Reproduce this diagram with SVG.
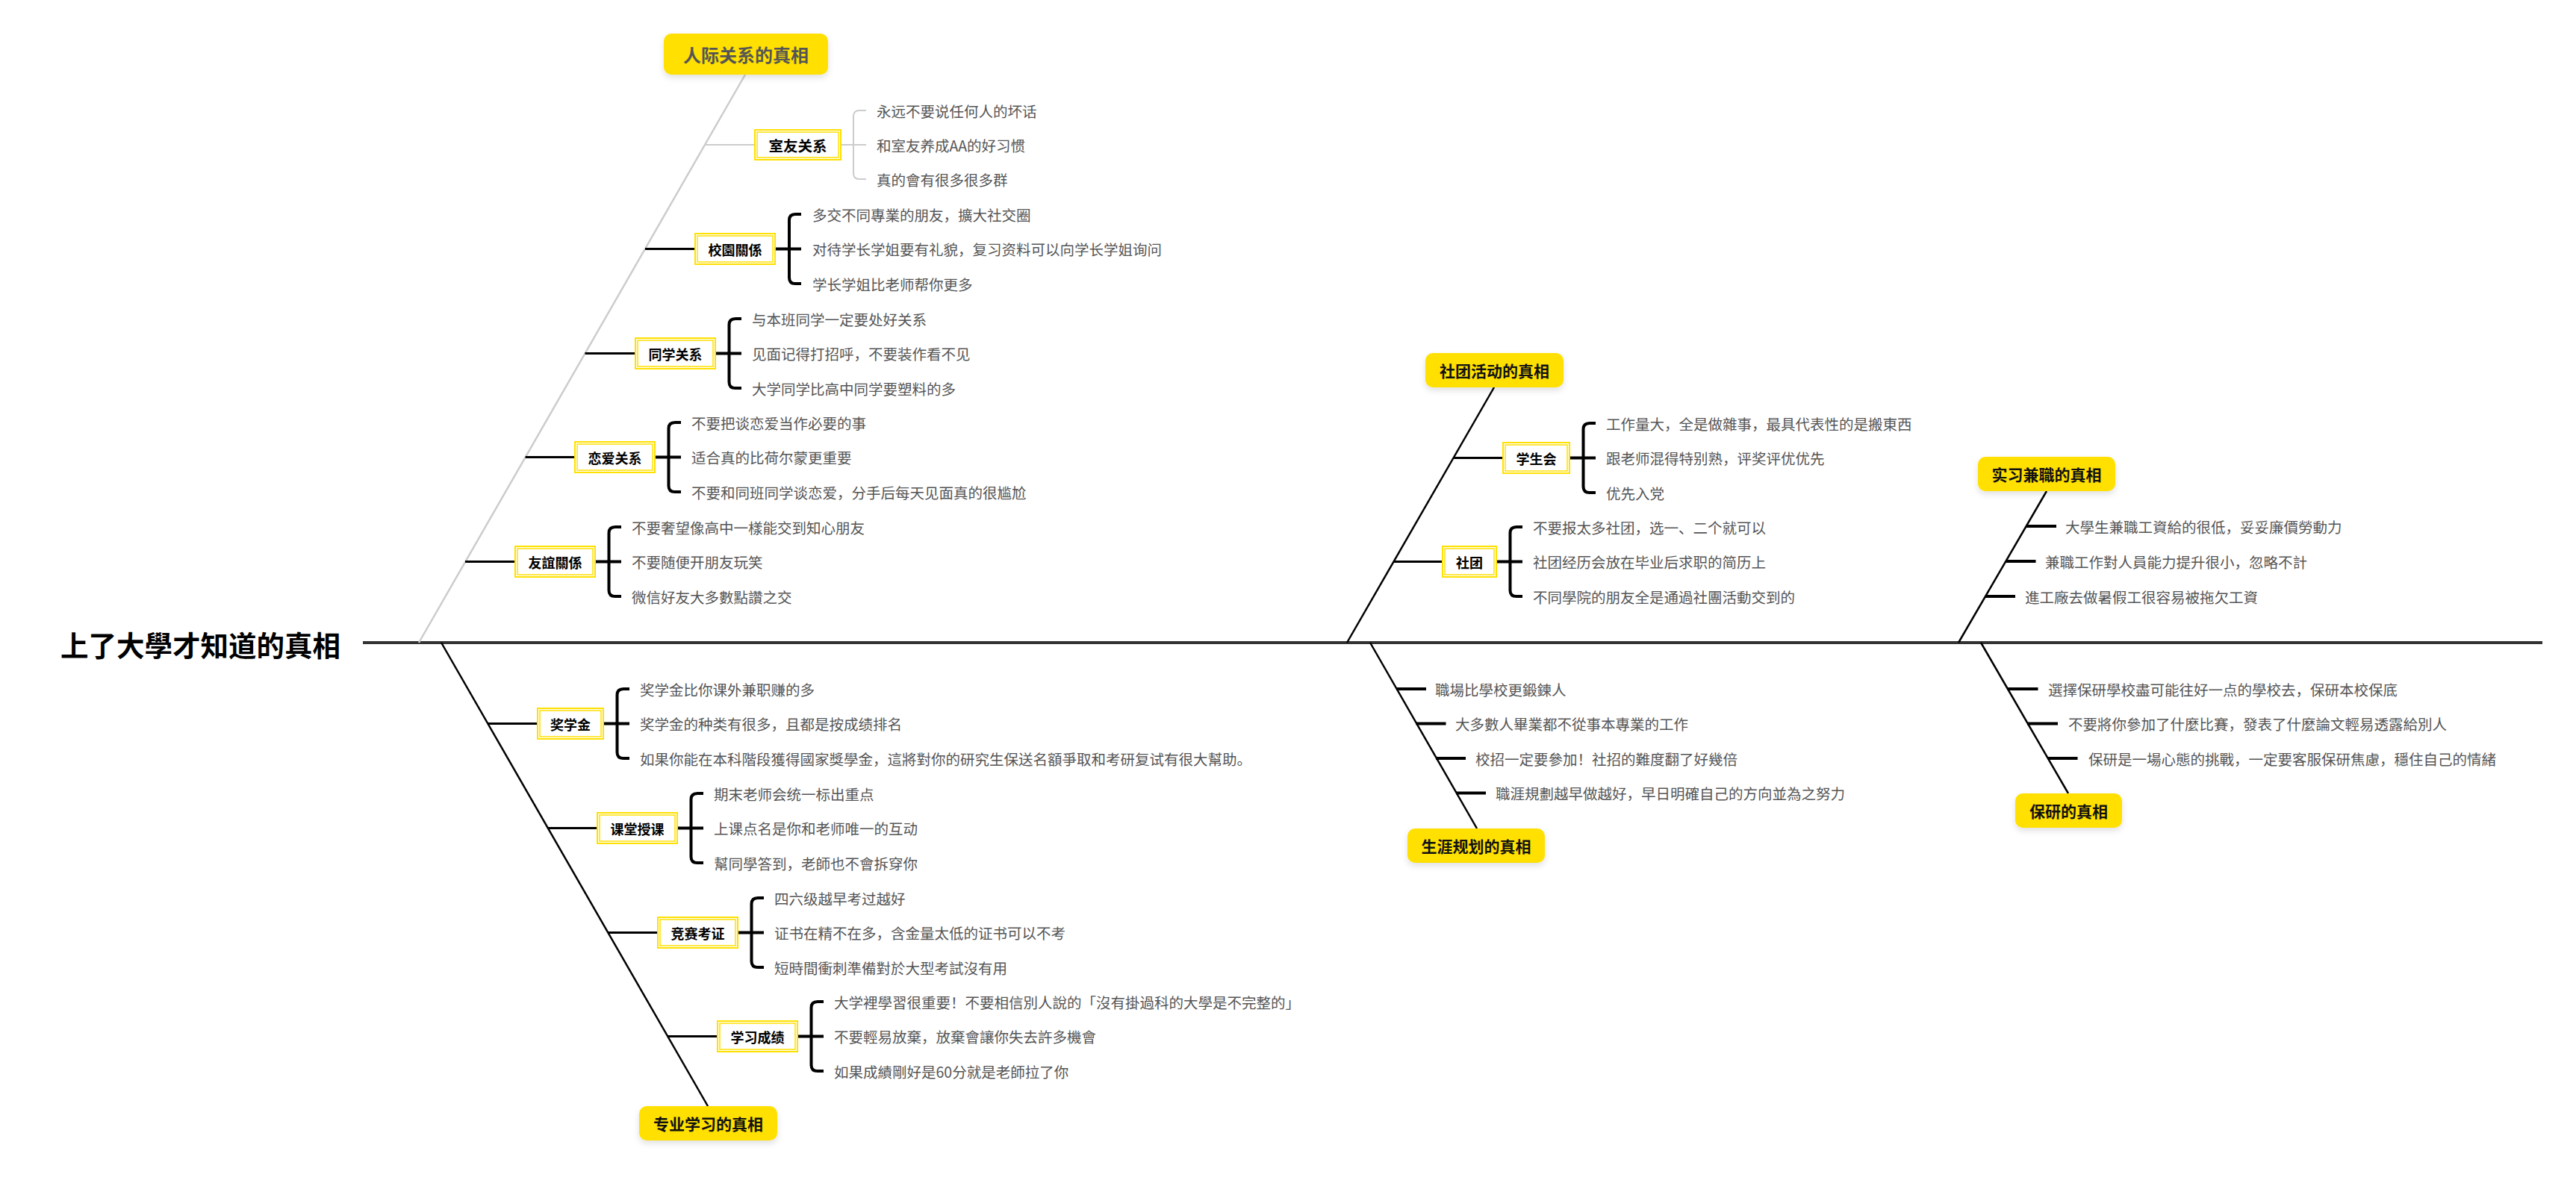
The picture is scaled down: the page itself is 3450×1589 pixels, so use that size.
<svg xmlns="http://www.w3.org/2000/svg" width="3450" height="1589" viewBox="0 0 3450 1589">
<defs>
<filter id="sh" x="-20%" y="-30%" width="140%" height="180%">
<feDropShadow dx="0" dy="4" stdDeviation="4" flood-color="#000" flood-opacity="0.12"/>
</filter>
<style>
text{font-family:"Noto Sans CJK SC","Noto Sans CJK TC",sans-serif;}
.title{font-size:37.5px;font-weight:700;fill:#000;dominant-baseline:central;}
.hbox{fill:#FFE000;filter:url(#sh);}
.htxt{font-size:21px;font-weight:700;fill:#111;text-anchor:middle;dominant-baseline:central;}
.sbox{fill:#fff;stroke:#FFE000;stroke-width:2;}
.sin{fill:none;stroke:#FFE000;stroke-width:1.5;}
.stxt{font-size:18px;font-weight:700;fill:#000;text-anchor:middle;dominant-baseline:central;}
.ctxt{font-size:19.5px;fill:#555;dominant-baseline:central;}
.spine{stroke:#333;stroke-width:4;fill:none;}
.bone{stroke:#000;stroke-width:2.5;fill:none;}
.gbone{stroke:#ccc;stroke-width:2.5;fill:none;}
.br{stroke:#000;stroke-width:3;fill:none;}
.brk{stroke:#000;stroke-width:4;fill:none;}
.gbrk{stroke:#ccc;stroke-width:2;fill:none;}
.tick{stroke:#000;stroke-width:4;fill:none;}
</style>
</defs>
<rect width="3450" height="1589" fill="#fff"/>

<g id="connectors">
<path class="spine" d="M486 861 H3405"/>
<path class="gbone" d="M998 100 L561 861"/>
<path class="bone" d="M591 861 L948 1482"/>
<path class="bone" d="M2001 519 L1804 861"/>
<path class="bone" d="M1835 861 L1978 1110"/>
<path class="bone" d="M2741 658 L2623 861"/>
<path class="bone" d="M2653 861 L2770 1063"/>

<path class="gbrk" d="M944 194 H1010"/>
<path class="br" d="M864 333.5 H930"/>
<path class="br" d="M783.5 473.5 H850"/>
<path class="br" d="M703.6 612.5 H769"/>
<path class="br" d="M623 752.5 H689"/>
<path class="br" d="M653 969.5 H719"/>
<path class="br" d="M733.5 1109.5 H799"/>
<path class="br" d="M814 1249.5 H880"/>
<path class="br" d="M894 1388.5 H960"/>
<path class="br" d="M1947 613.5 H2012"/>
<path class="br" d="M1866 752.5 H1931"/>

<path class="gbrk" d="M1127 194 H1160 M1160 148 H1151 Q1143 148 1143 156 V232 Q1143 240 1151 240 H1160"/>
<path class="brk" d="M1039 333.5 H1073 M1073 287 H1065 Q1057 287 1057 295 V372 Q1057 380 1065 380 H1073"/>
<path class="brk" d="M959 473.5 H993 M993 427 H985 Q976.5 427 976.5 435 V512 Q976.5 520 985 520 H993"/>
<path class="brk" d="M878 612.5 H912 M912 566 H904 Q895.5 566 895.5 574 V651 Q895.5 659 904 659 H912"/>
<path class="brk" d="M798 752.5 H832 M832 706 H824 Q815.5 706 815.5 714 V791 Q815.5 799 824 799 H832"/>
<path class="brk" d="M809 969.5 H843 M843 923 H835 Q826.5 923 826.5 931 V1008 Q826.5 1016 835 1016 H843"/>
<path class="brk" d="M908 1109.5 H942 M942 1063 H934 Q925.5 1063 925.5 1071 V1148 Q925.5 1156 934 1156 H942"/>
<path class="brk" d="M989 1249.5 H1023 M1023 1203 H1015 Q1006.5 1203 1006.5 1211 V1288 Q1006.5 1296 1015 1296 H1023"/>
<path class="brk" d="M1069 1388.5 H1103 M1103 1342 H1095 Q1086.5 1342 1086.5 1350 V1427 Q1086.5 1435 1095 1435 H1103"/>
<path class="brk" d="M2103 613.5 H2137 M2137 567 H2129 Q2120.5 567 2120.5 575 V652 Q2120.5 660 2129 660 H2137"/>
<path class="brk" d="M2005 752.5 H2039 M2039 706 H2031 Q2022.5 706 2022.5 714 V791 Q2022.5 799 2031 799 H2039"/>

<path class="tick" d="M1870 923 h40 M1896.5 969.5 h40 M1923 1016 h40 M1950 1062.5 h40"/>
<path class="tick" d="M2714 705 h40 M2686.5 752 h40 M2659 799 h40"/>
<path class="tick" d="M2688.5 923 h41 M2715 969.5 h41 M2742.5 1016 h40"/>
</g>

<g id="root">
<text class="title" x="81" y="862">上了大學才知道的真相</text>
</g>

<g id="h-renji">
<rect class="hbox" x="889" y="45" width="220" height="55" rx="10"/>
<text class="htxt" x="999" y="72.5" style="font-size:24px;fill:#555">人际关系的真相</text>
</g>
<g id="h-zhuanye">
<rect class="hbox" x="856" y="1482" width="185" height="46" rx="10"/>
<text class="htxt" x="948.5" y="1505">专业学习的真相</text>
</g>
<g id="h-shetuan">
<rect class="hbox" x="1909" y="473" width="185" height="46" rx="10"/>
<text class="htxt" x="2001.5" y="496">社团活动的真相</text>
</g>
<g id="h-shengya">
<rect class="hbox" x="1885" y="1110" width="184" height="46" rx="10"/>
<text class="htxt" x="1977" y="1133">生涯规划的真相</text>
</g>
<g id="h-shixi">
<rect class="hbox" x="2649" y="612" width="184" height="46" rx="10"/>
<text class="htxt" x="2741" y="635">实习兼職的真相</text>
</g>
<g id="h-baoyan">
<rect class="hbox" x="2699" y="1063" width="143" height="46" rx="10"/>
<text class="htxt" x="2770.5" y="1086">保研的真相</text>
</g>

<g id="n-shiyou">
<rect class="sbox" x="1011" y="174" width="115" height="40"/>
<rect class="sin" x="1014" y="177" width="109" height="34"/>
<text class="stxt" x="1068.5" y="194" style="font-size:19.5px">室友关系</text>
<text class="ctxt" x="1174" y="148">永远不要说任何人的坏话</text>
<text class="ctxt" x="1174" y="194">和室友养成AA的好习惯</text>
<text class="ctxt" x="1174" y="240">真的會有很多很多群</text>
</g>
<g id="n-xiaoyuan">
<rect class="sbox" x="931" y="313" width="107" height="41"/>
<rect class="sin" x="934" y="316" width="101" height="35"/>
<text class="stxt" x="984.5" y="333.5">校園關係</text>
<text class="ctxt" x="1088" y="287">多交不同專業的朋友，擴大社交圈</text>
<text class="ctxt" x="1088" y="333.5">对待学长学姐要有礼貌，复习资料可以向学长学姐询问</text>
<text class="ctxt" x="1088" y="380">学长学姐比老师帮你更多</text>
</g>
<g id="n-tongxue">
<rect class="sbox" x="851" y="453" width="107" height="41"/>
<rect class="sin" x="854" y="456" width="101" height="35"/>
<text class="stxt" x="904.5" y="473.5">同学关系</text>
<text class="ctxt" x="1007" y="427">与本班同学一定要处好关系</text>
<text class="ctxt" x="1007" y="473.5">见面记得打招呼，不要装作看不见</text>
<text class="ctxt" x="1007" y="520">大学同学比高中同学要塑料的多</text>
</g>
<g id="n-lianai">
<rect class="sbox" x="770" y="592" width="107" height="41"/>
<rect class="sin" x="773" y="595" width="101" height="35"/>
<text class="stxt" x="823.5" y="612.5">恋爱关系</text>
<text class="ctxt" x="926" y="566">不要把谈恋爱当作必要的事</text>
<text class="ctxt" x="926" y="612.5">适合真的比荷尔蒙更重要</text>
<text class="ctxt" x="926" y="659">不要和同班同学谈恋爱，分手后每天见面真的很尴尬</text>
</g>
<g id="n-youyi">
<rect class="sbox" x="690" y="732" width="107" height="41"/>
<rect class="sin" x="693" y="735" width="101" height="35"/>
<text class="stxt" x="743.5" y="752.5">友誼關係</text>
<text class="ctxt" x="846" y="706">不要奢望像高中一樣能交到知心朋友</text>
<text class="ctxt" x="846" y="752.5">不要随便开朋友玩笑</text>
<text class="ctxt" x="846" y="799">微信好友大多數點讚之交</text>
</g>

<g id="n-jiangxuejin">
<rect class="sbox" x="720" y="949" width="88" height="41"/>
<rect class="sin" x="723" y="952" width="82" height="35"/>
<text class="stxt" x="764" y="969.5">奖学金</text>
<text class="ctxt" x="857" y="923">奖学金比你课外兼职赚的多</text>
<text class="ctxt" x="857" y="969.5">奖学金的种类有很多，且都是按成绩排名</text>
<text class="ctxt" x="857" y="1016">如果你能在本科階段獲得國家獎學金，這將對你的研究生保送名額爭取和考研复试有很大幫助。</text>
</g>
<g id="n-ketang">
<rect class="sbox" x="800" y="1089" width="107" height="41"/>
<rect class="sin" x="803" y="1092" width="101" height="35"/>
<text class="stxt" x="853.5" y="1109.5">课堂授课</text>
<text class="ctxt" x="956" y="1063">期末老师会统一标出重点</text>
<text class="ctxt" x="956" y="1109.5">上课点名是你和老师唯一的互动</text>
<text class="ctxt" x="956" y="1156">幫同學答到，老師也不會拆穿你</text>
</g>
<g id="n-jingsai">
<rect class="sbox" x="881" y="1229" width="107" height="41"/>
<rect class="sin" x="884" y="1232" width="101" height="35"/>
<text class="stxt" x="934.5" y="1249.5">竞赛考证</text>
<text class="ctxt" x="1037" y="1203">四六级越早考过越好</text>
<text class="ctxt" x="1037" y="1249.5">证书在精不在多，含金量太低的证书可以不考</text>
<text class="ctxt" x="1037" y="1296">短時間衝刺準備對於大型考試沒有用</text>
</g>
<g id="n-xuexi">
<rect class="sbox" x="961" y="1368" width="107" height="41"/>
<rect class="sin" x="964" y="1371" width="101" height="35"/>
<text class="stxt" x="1014.5" y="1388.5">学习成绩</text>
<text class="ctxt" x="1117" y="1342">大学裡學習很重要！不要相信別人說的「沒有掛過科的大學是不完整的」</text>
<text class="ctxt" x="1117" y="1388.5">不要輕易放棄，放棄會讓你失去許多機會</text>
<text class="ctxt" x="1117" y="1435">如果成績剛好是60分就是老師拉了你</text>
</g>

<g id="n-xueshenghui">
<rect class="sbox" x="2013" y="593" width="89" height="41"/>
<rect class="sin" x="2016" y="596" width="83" height="35"/>
<text class="stxt" x="2057.5" y="613.5">学生会</text>
<text class="ctxt" x="2151" y="567">工作量大，全是做雜事，最具代表性的是搬東西</text>
<text class="ctxt" x="2151" y="613.5">跟老师混得特别熟，评奖评优优先</text>
<text class="ctxt" x="2151" y="660">优先入党</text>
</g>
<g id="n-shetuan">
<rect class="sbox" x="1932" y="732" width="72" height="41"/>
<rect class="sin" x="1935" y="735" width="66" height="35"/>
<text class="stxt" x="1968" y="752.5">社团</text>
<text class="ctxt" x="2053" y="706">不要报太多社团，选一、二个就可以</text>
<text class="ctxt" x="2053" y="752.5">社团经历会放在毕业后求职的简历上</text>
<text class="ctxt" x="2053" y="799">不同學院的朋友全是通過社團活動交到的</text>
</g>

<g id="n-shengya-items">
<text class="ctxt" x="1922" y="923">職場比學校更鍛鍊人</text>
<text class="ctxt" x="1949" y="969.5">大多數人畢業都不從事本專業的工作</text>
<text class="ctxt" x="1976" y="1016">校招一定要參加！社招的難度翻了好幾倍</text>
<text class="ctxt" x="2003" y="1062.5">職涯規劃越早做越好，早日明確自己的方向並為之努力</text>
</g>
<g id="n-shixi-items">
<text class="ctxt" x="2766" y="705">大學生兼職工資給的很低，妥妥廉價勞動力</text>
<text class="ctxt" x="2739" y="752">兼職工作對人員能力提升很小，忽略不計</text>
<text class="ctxt" x="2712" y="799">進工廠去做暑假工很容易被拖欠工資</text>
</g>
<g id="n-baoyan-items">
<text class="ctxt" x="2743" y="923">選擇保研學校盡可能往好一点的學校去，保研本校保底</text>
<text class="ctxt" x="2770" y="969.5">不要將你參加了什麼比賽，發表了什麼論文輕易透露給別人</text>
<text class="ctxt" x="2797" y="1016">保研是一場心態的挑戰，一定要客服保研焦慮，穩住自己的情緒</text>
</g>
</svg>
